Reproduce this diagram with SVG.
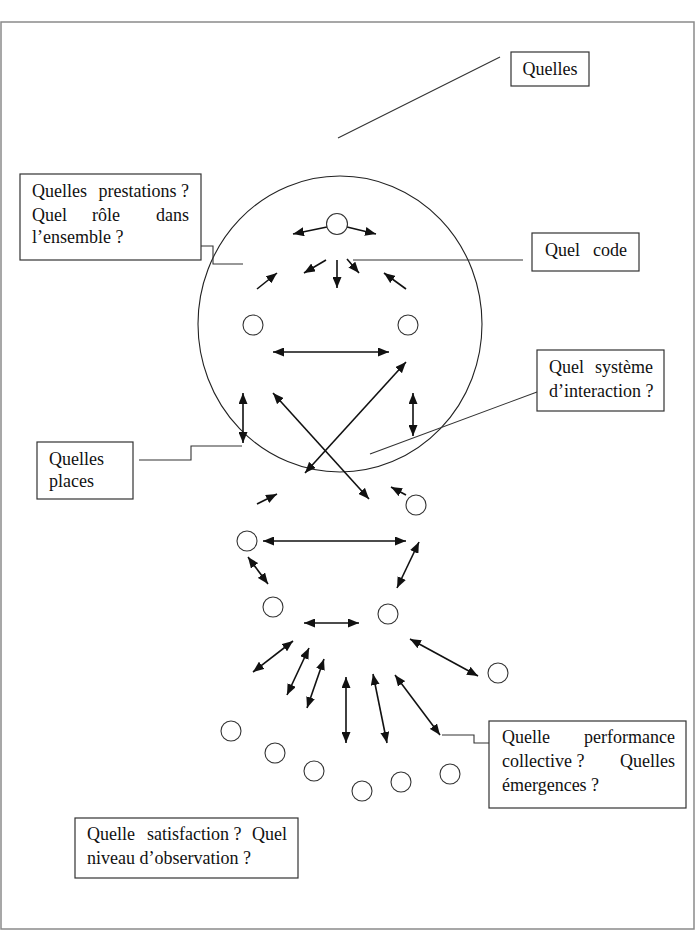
<svg xmlns="http://www.w3.org/2000/svg" width="697" height="932" viewBox="0 0 697 932">
  <style>
    .frame { fill: none; stroke: #8a8a8a; stroke-width: 1.5; }
    .box { fill: #fff; stroke: #333; stroke-width: 1.2; }
    .lbl { font-family: "Liberation Serif", "Times New Roman", serif; font-size: 18px; fill: #111; }
    .end { text-anchor: end; }
    .mid { text-anchor: middle; }
    .agent { fill: #fff; stroke: #333; stroke-width: 1.1; }
    .env { fill: none; stroke: #222; stroke-width: 1.1; }
    .lead { fill: none; stroke: #333; stroke-width: 1.1; }
    .arr { fill: none; stroke: #111; stroke-width: 1.6; marker-end: url(#head); }
    .dbl { fill: none; stroke: #111; stroke-width: 1.6; marker-start: url(#head); marker-end: url(#head); }
  </style>
  <defs>
    <marker id="head" markerUnits="userSpaceOnUse" markerWidth="11" markerHeight="9" refX="11" refY="4.5" orient="auto-start-reverse">
      <path d="M0,0 L11,4.5 L0,9 z" fill="#111"/>
    </marker>
  </defs>

  <rect class="frame" x="1" y="22" width="693" height="907"/>

  <!-- organisation boundary -->
  <ellipse id="organisation" class="env" cx="340" cy="324" rx="142" ry="148"/>

  <!-- leader lines and interaction arrows -->
  <g id="connectors">
    <line class="lead" x1="338" y1="138" x2="500" y2="57"/>
    <polyline class="lead" points="185,246 213,246 213,264 243,264"/>
    <line class="lead" x1="353" y1="260" x2="523" y2="260"/>
    <line class="lead" x1="370" y1="454" x2="537" y2="392"/>
    <polyline class="lead" points="139,460 191,460 191,446 242,446"/>
    <polyline class="lead" points="442,735 474,735 474,743 503,743"/>

    <!-- inside the organisation -->
    <line class="arr" x1="327" y1="227" x2="293" y2="234"/>
    <line class="arr" x1="347" y1="227" x2="376" y2="234"/>
    <line class="arr" x1="326" y1="260" x2="304" y2="273"/>
    <line class="arr" x1="337" y1="260" x2="337" y2="288"/>
    <line class="arr" x1="347" y1="259" x2="359" y2="273"/>
    <line class="arr" x1="257" y1="289" x2="277" y2="273"/>
    <line class="arr" x1="406" y1="289" x2="384" y2="273"/>
    <line class="dbl" x1="273" y1="352" x2="389" y2="352"/>
    <line class="dbl" x1="305" y1="473" x2="406" y2="362"/>
    <line class="dbl" x1="273" y1="393" x2="369" y2="499"/>
    <line class="dbl" x1="243" y1="393" x2="243" y2="443"/>
    <line class="dbl" x1="413" y1="393" x2="413" y2="436"/>

    <!-- below the organisation -->
    <line class="arr" x1="257" y1="504" x2="277" y2="494"/>
    <line class="arr" x1="406" y1="495" x2="391" y2="487"/>
    <line class="dbl" x1="263" y1="541" x2="406" y2="541"/>
    <line class="dbl" x1="248" y1="557" x2="268" y2="584"/>
    <line class="dbl" x1="419" y1="542" x2="397" y2="588"/>
    <line class="dbl" x1="304" y1="623" x2="359" y2="623"/>
    <line class="dbl" x1="253" y1="672" x2="293" y2="641"/>
    <line class="dbl" x1="287" y1="695" x2="309" y2="648"/>
    <line class="dbl" x1="307" y1="708" x2="324" y2="659"/>
    <line class="dbl" x1="346" y1="677" x2="346" y2="743"/>
    <line class="dbl" x1="373" y1="674" x2="387" y2="743"/>
    <line class="dbl" x1="395" y1="675" x2="440" y2="735"/>
    <line class="dbl" x1="410" y1="639" x2="478" y2="676"/>
  </g>

  <!-- agents -->
  <g id="agents">
    <circle class="agent" cx="337" cy="224" r="10.5"/>
    <circle class="agent" cx="253" cy="325" r="10"/>
    <circle class="agent" cx="408" cy="325" r="10"/>
    <circle class="agent" cx="416" cy="505" r="10"/>
    <circle class="agent" cx="247" cy="541" r="10"/>
    <circle class="agent" cx="273" cy="607" r="10"/>
    <circle class="agent" cx="388" cy="614" r="10"/>
    <circle class="agent" cx="498" cy="673" r="10"/>
    <circle class="agent" cx="231" cy="731" r="10"/>
    <circle class="agent" cx="275" cy="753" r="10"/>
    <circle class="agent" cx="314" cy="771" r="10"/>
    <circle class="agent" cx="362" cy="791" r="10"/>
    <circle class="agent" cx="401" cy="782" r="10"/>
    <circle class="agent" cx="450" cy="774" r="10"/>
  </g>

  <g id="quelles">
    <rect class="box" x="511" y="52" width="78" height="34"/>
    <text class="lbl mid" x="550" y="75">Quelles</text>
  </g>

  <g id="prestations">
    <rect class="box" x="20" y="174" width="181" height="86"/>
    <text class="lbl" x="32" y="197">Quelles</text>
    <text class="lbl end" x="189" y="197">prestations ?</text>
    <text class="lbl" x="32" y="221">Quel</text>
    <text class="lbl" x="92" y="221">rôle</text>
    <text class="lbl end" x="189" y="221">dans</text>
    <text class="lbl" x="32" y="243">l’ensemble ?</text>
  </g>

  <g id="code">
    <rect class="box" x="532" y="233" width="107" height="38"/>
    <text class="lbl" x="545" y="256">Quel</text>
    <text class="lbl end" x="627" y="256">code</text>
  </g>

  <g id="systeme">
    <rect class="box" x="537" y="350" width="127" height="61"/>
    <text class="lbl" x="549" y="373">Quel</text>
    <text class="lbl end" x="653" y="373">système</text>
    <text class="lbl" x="549" y="397">d’interaction ?</text>
  </g>

  <g id="places">
    <rect class="box" x="37" y="442" width="96" height="57"/>
    <text class="lbl" x="49" y="465">Quelles</text>
    <text class="lbl" x="49" y="487">places</text>
  </g>

  <g id="performance">
    <rect class="box" x="489" y="721" width="197" height="87"/>
    <text class="lbl" x="502" y="743">Quelle</text>
    <text class="lbl end" x="675" y="743">performance</text>
    <text class="lbl" x="502" y="767">collective ?</text>
    <text class="lbl end" x="675" y="767">Quelles</text>
    <text class="lbl" x="502" y="791">émergences ?</text>
  </g>

  <g id="satisfaction">
    <rect class="box" x="75" y="818" width="223" height="60"/>
    <text class="lbl" x="87" y="840">Quelle</text>
    <text class="lbl" x="147" y="840">satisfaction ?</text>
    <text class="lbl end" x="287" y="840">Quel</text>
    <text class="lbl" x="87" y="864">niveau d’observation ?</text>
  </g>
</svg>
